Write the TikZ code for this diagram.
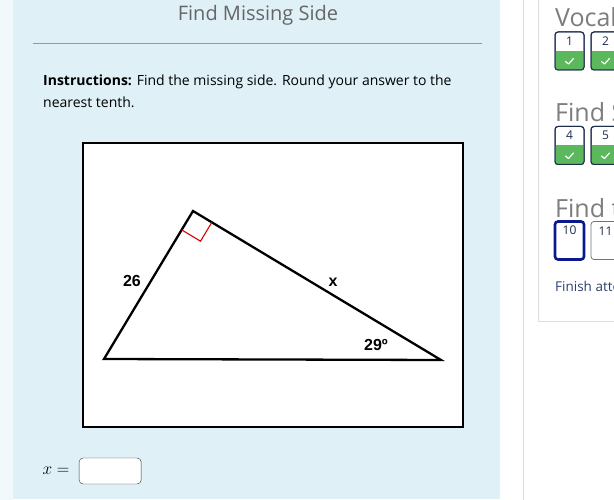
\documentclass[tikz,border=0pt]{standalone}
\usepackage{amsmath}
\usepackage{fontspec}
\setmainfont{Open Sans}
\newfontfamily\figfont{Liberation Sans}
\usetikzlibrary{positioning,calc}
\definecolor{panelblue}{HTML}{DFF0F7}
\definecolor{titlegrey}{HTML}{666666}
\definecolor{navy}{HTML}{1F2D4D}
\definecolor{deepnavy}{HTML}{0A1A8C}
\definecolor{okgreen}{HTML}{5CB85C}
\definecolor{linkblue}{HTML}{2B4170}

\begin{document}
\begin{tikzpicture}[x=1pt,y=-1pt,
  qbox/.style={draw=navy,line width=1pt,rounded corners=3pt,minimum width=29pt,minimum height=38pt,inner sep=0pt},
  qnum/.style={font=\fontsize{12}{12}\selectfont,text=navy},
  sect/.style={anchor=base west,inner sep=0pt,font=\fontsize{25}{25}\selectfont,text=titlegrey!85},
  tlabel/.style={font=\figfont\bfseries\fontsize{16}{16}\selectfont}]

  \clip (0,0) rectangle (614,500);
  \useasboundingbox (0,0) rectangle (614,500);

  % page
  \fill[white] (0,0) rectangle (614,500);
  \fill[panelblue!40] (0,0) rectangle (13,500);
  \fill[panelblue] (13,0) rectangle (500,499);
  \draw[black!15] (523,0) -- (523,500);

  % heading & instructions
  \node[font=\fontsize{20}{20}\selectfont,text=titlegrey] (title) at (258,15) {Find Missing Side};
  \draw[black!40] (33,43) -- (482,43);
  \node[anchor=base west,inner sep=0pt,font=\fontsize{14}{14}\selectfont] (instr) at (43,86)
    {\textbf{Instructions:} Find the missing side. Round your answer to the};
  \node[anchor=base west,inner sep=0pt,font=\fontsize{14}{14}\selectfont] (instr2) at (43,108) {nearest tenth.};

  % figure
  \node[draw,fill=white,line width=2.6pt,minimum width=380pt,minimum height=284pt,inner sep=0pt] (frame) at (273,285) {};
  \coordinate (A) at (104,359);
  \coordinate (B) at (193,211);
  \coordinate (C) at (441,360);
  \draw[line width=2.3pt,line join=miter] (A) -- (B) -- (C) -- cycle;
  \draw[red!85!black,line width=1.1pt] ($(B)!22pt!(A)$) -- ($(B)!22pt!(A)!22pt!90:(A)$) -- ($(B)!22pt!(C)$);
  \node[tlabel] (side) at (132,281) {26};
  \node[tlabel] (hyp) at (333,282) {x};
  \node[tlabel] (ang) at (376,345) {29º};

  % answer
  \node[font=\fontsize{16}{16}\selectfont] (xeq) at (56,471) {$x =$};
  \node[draw=black!80,fill=white,rounded corners=4pt,minimum width=62pt,minimum height=26pt,inner sep=0pt,
    right=6pt of xeq.east,anchor=west] (ans) {};

  % side card
  \draw[black!13,fill=white] (538,-5) rectangle (640,321);
  \node[sect] (voc) at (555,27) {Vocab};
  \node[sect] (fs) at (555,122) {Find S};
  \node[sect] (ft) at (555,218) {Find t};

  \foreach \n/\x/\y in {1/569.5/51, 2/605.5/51, 4/569.5/145.5, 5/605.5/145.5} {
    \node[qbox] (q\n) at (\x,\y) {};
    \begin{scope}
      \clip[rounded corners=3pt] (q\n.north west) rectangle (q\n.south east);
      \fill[okgreen] (q\n.west) rectangle (q\n.south east);
    \end{scope}
    \node[qbox] at (q\n) {};
    \node[qnum] at ($(q\n.north)+(0,9.5)$) {\n};
    \draw[white,line width=1.2pt,line cap=round,line join=round]
      ($(q\n.south)+(-4,-9)$) -- ($(q\n.south)+(-1,-6.5)$) -- ($(q\n.south)+(4,-12)$);
  }

  \node[qbox,draw=deepnavy,line width=2.6pt] (q10) at (569.5,240.5) {};
  \node[qnum] at ($(q10.north)+(0,10)$) {10};
  \node[qbox,draw=black!55,line width=0.8pt] (q11) at (605.5,240.5) {};
  \node[qnum] at ($(q11.north)+(0,10)$) {11};

  \node[anchor=base west,inner sep=0pt,font=\fontsize{13.5}{13.5}\selectfont,text=linkblue] (fin) at (555,291) {Finish attempt};
\end{tikzpicture}
\end{document}
